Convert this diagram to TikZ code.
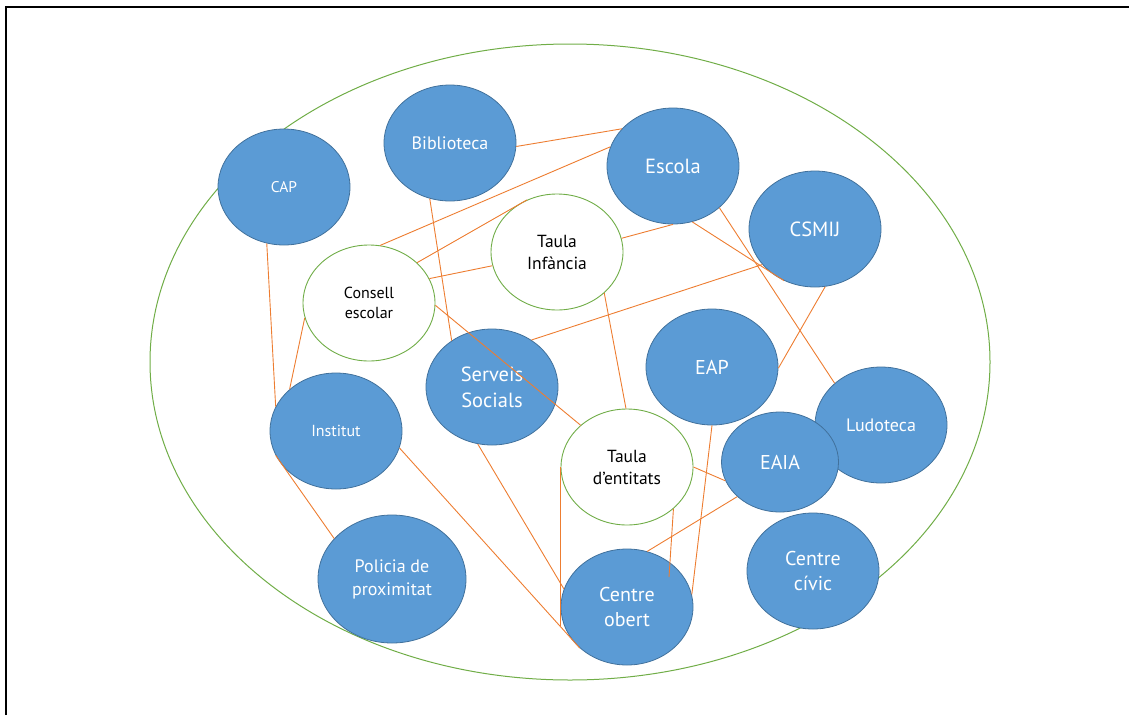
\documentclass[tikz,border=0pt]{standalone}
\usepackage{fontspec}
\setmainfont{PT Sans}
\usetikzlibrary{shapes.geometric,calc}
\definecolor{nblue}{HTML}{5B9BD5}
\definecolor{nborder}{HTML}{41719C}
\definecolor{lorange}{HTML}{ED7D31}
\definecolor{lgreen}{HTML}{70AD47}
\newcommand{\fsz}[2]{\fontsize{#1}{#2}\selectfont}
\begin{document}
\begin{tikzpicture}[x=1pt,y=-1pt,
  bnode/.style={ellipse, draw=nborder, fill=nblue, line width=0.8pt,
    minimum width=132pt, minimum height=116pt, inner sep=0pt,
    text=white, align=center},
  wnode/.style={ellipse, draw=lgreen, fill=white, line width=0.9pt,
    minimum width=132pt, minimum height=116pt, inner sep=0pt,
    text=black, align=center},
  link/.style={draw=lorange, line width=0.9pt},
  frameline/.style={draw=black, line width=1.5pt},
]
\useasboundingbox (0,0) rectangle (1129,715);
% frame
\coordinate (fbl) at (6,715);
\coordinate (ftl) at (6,7);
\coordinate (ftr) at (1129,7);
\draw[frameline] (fbl) -- (ftl) -- (ftr);
% outer ellipse
\draw[lgreen, line width=1pt] (570,362) ellipse [x radius=420pt, y radius=318pt];

% nodes
\node[bnode, font=\fsz{15.5}{19}] (cap) at (284,187) {CAP};
\node[bnode, font=\fsz{18}{22}] (bib) at (450,143) {Biblioteca};
\node[bnode, font=\fsz{20.5}{25}] (esc) at (673,166) {Escola};
\node[wnode, font=\fsz{17.5}{22}] (ti) at (557,252) {Taula\\Infància};
\node[bnode, font=\fsz{20.5}{25}] (csm) at (815,229) {CSMIJ};
\node[wnode, font=\fsz{16}{20}] (cons) at (369,303) {Consell\\escolar};
\node[bnode, font=\fsz{20}{25}] (eap) at (712,367) {EAP};
\node[bnode, font=\fsz{18}{22}] (lud) at (881,425) {Ludoteca};
\node[bnode, font=\fsz{20}{25}, minimum width=117pt, minimum height=100pt] (eaia) at (780,462) {EAIA};
\node[bnode, font=\fsz{20.5}{26}] (ss) at (492,387) {Serveis\\Socials};
\node[bnode, font=\fsz{16}{20}] (inst) at (336,431) {Institut};
\node[bnode, font=\fsz{18}{23}, minimum width=148pt, minimum height=128pt] (pol) at (392,579) {Policia de\\proximitat};
\node[wnode, font=\fsz{17.5}{22}] (tde) at (627,467) {Taula\\d’entitats};
\node[bnode, font=\fsz{20}{25}] (co) at (627,607) {Centre\\obert};
\node[bnode, font=\fsz{20}{25}] (cc) at (813,571) {Centre\\cívic};

% links
\draw[link] (bib.-3) -- (esc.144.6);
\draw[link] (cons.79.6) -- (esc.163.9);
\draw[link] (cons.40.4) -- (ti.120.1);
\draw[link] (cons.22.5) -- (ti.192.3);
\draw[link] (ti.12.6) -- (esc.270);
\draw[link] (bib.250.2) -- (ss.131.2);
\draw[link] (ss.50.9) -- (csm.214.7);
\draw[link] (esc.289) -- (csm.239);
\draw[link] (esc.318.8) -- (lud.138.8);
\draw[link] (csm.280.7) -- (eap.359);
\draw[link] (cap.253) -- (inst.158.4);
\draw[link] (cons.193.2) -- (inst.138.2);
\draw[link] (inst.202.5) -- (pol.145.9);
\draw[link] (inst.345.1) -- (co.221.1);
\draw[link] (ss.256.4) -- (co.164.2);
\draw[link] (cons.358.3) -- (tde.138.2);
\draw[link] (ti.319.1) -- (tde.91);
\draw[link] (tde.west) -- (tde.west |- co.197.6);
\draw[link] (tde.0) -- (eaia.199.6);
\draw[link] (eaia.219.8) -- (co.70.1);
\draw[link] (tde.318.3) -- ($(co.center)+(42,-30)$);
\draw[link] (eap.south) -- (co.11.1);
\end{tikzpicture}
\end{document}
